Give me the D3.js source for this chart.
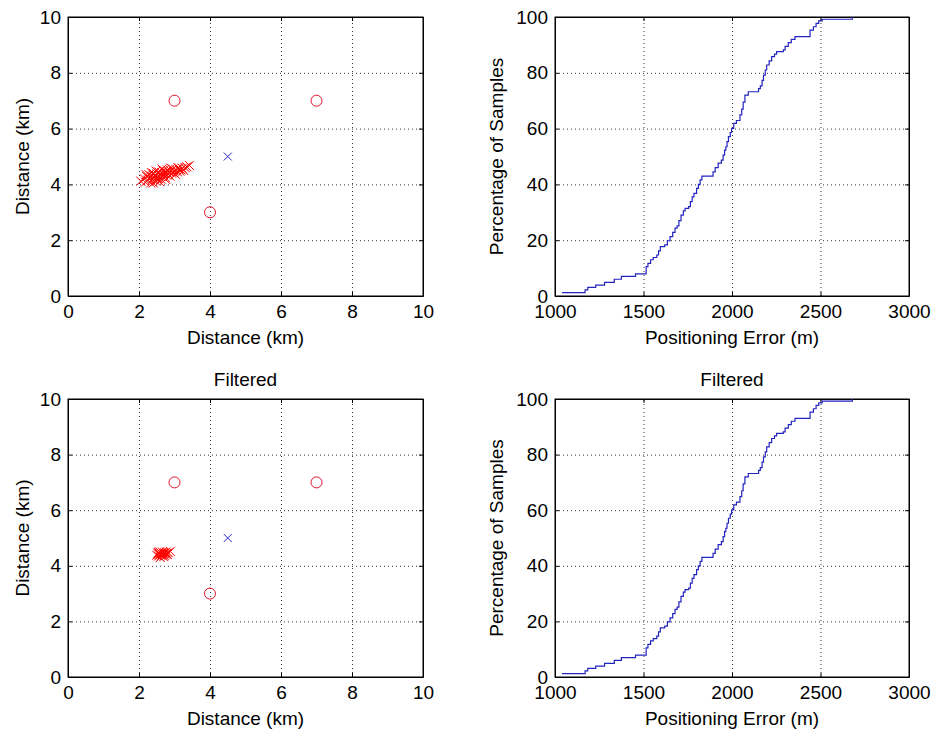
<!DOCTYPE html>
<html>
<head>
<meta charset="utf-8">
<script src="https://cdn.jsdelivr.net/npm/d3@7"></script>
<style>
  body { margin: 0; background: #fff; }
  svg { font-family: "Liberation Sans", Arial, sans-serif; }
  .tick text { font-size: 19px; fill: #000; }
  .grid line { stroke: #000; stroke-dasharray: 1,3; stroke-opacity: 0.8; }
  .grid .domain { display: none; }
</style>
</head>
<body>
<script>
// anchor points (red circles) and the true position (blue cross)
const anchorX = [3, 7, 4];
const anchorY = [7, 7, 3];
const truePos = [4.5, 5];

// raw position estimates (red crosses, top left)
const rawX = [2.05, 2.15, 2.18, 2.22, 2.25, 2.28, 2.30, 2.33, 2.35, 2.38, 2.40, 2.42, 2.45, 2.47, 2.50,
  2.52, 2.55, 2.57, 2.60, 2.62, 2.64, 2.66, 2.68, 2.70, 2.72, 2.74, 2.76, 2.78, 2.80, 2.82, 2.85, 2.87,
  2.90, 2.92, 2.95, 2.97, 3.00, 3.03, 3.05, 3.08, 3.12, 3.15, 3.18, 3.22, 3.26, 3.30, 3.35, 3.42, 2.40,
  2.58, 2.20, 2.48, 2.65, 3.10, 2.90, 2.35, 2.53, 2.75];
const rawY = [4.12, 4.20, 4.08, 4.28, 4.15, 4.35, 4.22, 4.05, 4.30, 4.18, 4.40, 4.26, 4.33, 4.12, 4.38,
  4.22, 4.45, 4.30, 4.36, 4.18, 4.42, 4.28, 4.50, 4.35, 4.40, 4.25, 4.46, 4.33, 4.52, 4.38, 4.44, 4.30,
  4.48, 4.40, 4.55, 4.42, 4.47, 4.36, 4.52, 4.45, 4.56, 4.48, 4.52, 4.58, 4.50, 4.60, 4.63, 4.68, 4.05,
  4.10, 4.35, 4.48, 4.55, 4.60, 4.58, 4.42, 4.15, 4.18];

// filtered position estimates (red crosses, bottom left)
const filtX = [2.50, 2.53, 2.55, 2.57, 2.58, 2.60, 2.62, 2.63, 2.65, 2.66, 2.68, 2.70, 2.72, 2.73, 2.75,
  2.77, 2.78, 2.80, 2.83, 2.88, 2.60, 2.70, 2.55];
const filtY = [4.38, 4.45, 4.35, 4.42, 4.50, 4.40, 4.46, 4.36, 4.43, 4.49, 4.40, 4.45, 4.38, 4.47, 4.42,
  4.50, 4.44, 4.41, 4.47, 4.52, 4.30, 4.33, 4.48];

// empirical CDF of the positioning error (step points)
const cdfError = [1040, 1170, 1185, 1230, 1280, 1335, 1375, 1455, 1515, 1525, 1540, 1555, 1575, 1585,
  1595, 1620, 1635, 1650, 1665, 1678, 1690, 1700, 1712, 1725, 1735, 1755, 1765, 1775, 1785, 1800, 1810,
  1820, 1830, 1880, 1893, 1905, 1922, 1940, 1950, 1958, 1965, 1972, 1980, 1990, 1998, 2010, 2025, 2045,
  2055, 2063, 2073, 2092, 2150, 2160, 2170, 2178, 2188, 2196, 2210, 2224, 2240, 2252, 2290, 2300, 2318,
  2335, 2356, 2441, 2460, 2475, 2490, 2510, 2680];
const cdfPct = [1.2, 2.2, 3.1, 3.9, 4.9, 6.0, 7.0, 7.9, 10.5, 11.7, 13.0, 13.8, 14.7, 16.2,
  17.7, 18.3, 19.8, 21.3, 22.8, 24.3, 25.1, 27.0, 29.0, 30.5, 31.4, 32.0, 33.8, 35.5, 36.8, 38.6, 40.0,
  41.6, 43.0, 43.0, 44.5, 46.0, 47.6, 48.7, 50.5, 52.3, 53.5, 55.3, 57.1, 58.6, 60.1, 61.9, 62.9, 64.9,
  67.0, 69.5, 72.0, 73.2, 74.3, 75.3, 77.3, 79.2, 81.0, 82.8, 84.3, 85.8, 86.7, 87.6, 88.2, 89.5, 90.8,
  92.0, 93.0, 95.3, 96.5, 97.7, 98.6, 99.2, 100];
const cdfErrorFilt = cdfError;
const cdfPctFilt = cdfPct;

const distTicks = [0, 2, 4, 6, 8, 10];
const errTicks = [1000, 1500, 2000, 2500, 3000];
const pctTicks = [0, 20, 40, 60, 80, 100];

const width = 935, height = 735;
const svg = d3.select("body").append("svg")
  .attr("width", width)
  .attr("height", height);

const fmt = d3.format("d");

function drawPanel(box, xDomain, yDomain, xTicks, yTicks, xLabel, yLabel, title) {
  const x = d3.scaleLinear().domain(xDomain).range([box.left, box.right]);
  const y = d3.scaleLinear().domain(yDomain).range([box.bottom, box.top]);
  const g = svg.append("g");

  // dotted grid
  g.append("g").attr("class", "grid")
    .attr("transform", `translate(0,${box.bottom})`)
    .call(d3.axisBottom(x).tickValues(xTicks.slice(1, -1)).tickSize(-(box.bottom - box.top)).tickFormat(""));
  g.append("g").attr("class", "grid")
    .attr("transform", `translate(${box.left},0)`)
    .call(d3.axisLeft(y).tickValues(yTicks.slice(1, -1)).tickSize(-(box.right - box.left)).tickFormat(""));

  // tick labels + inward ticks
  const xa = g.append("g").attr("transform", `translate(0,${box.bottom})`)
    .call(d3.axisBottom(x).tickValues(xTicks).tickFormat(fmt).tickSizeInner(-4).tickSizeOuter(0).tickPadding(9));
  g.append("g").attr("transform", `translate(${box.left},0)`)
    .call(d3.axisLeft(y).tickValues(yTicks).tickFormat(fmt).tickSizeInner(-4).tickSizeOuter(0).tickPadding(7));
  g.append("g").attr("transform", `translate(0,${box.top})`)
    .call(d3.axisTop(x).tickValues(xTicks).tickSizeInner(-4).tickSizeOuter(0).tickFormat(""));
  g.append("g").attr("transform", `translate(${box.right},0)`)
    .call(d3.axisRight(y).tickValues(yTicks).tickSizeInner(-4).tickSizeOuter(0).tickFormat(""));
  g.selectAll(".domain").filter(function() { return !this.parentNode.classList.contains("grid"); })
    .attr("stroke", "#000");
  xa.selectAll(".tick text").attr("dy", "0.71em");

  g.append("rect")
    .attr("x", box.left).attr("y", box.top)
    .attr("width", box.right - box.left).attr("height", box.bottom - box.top)
    .attr("fill", "none").attr("stroke", "#000").attr("stroke-width", 1);

  g.append("text")
    .attr("x", (box.left + box.right) / 2).attr("y", box.bottom + 48)
    .attr("text-anchor", "middle").attr("font-size", 19)
    .text(xLabel);
  g.append("text")
    .attr("transform", `translate(${box.left - box.yTitleOff},${(box.top + box.bottom) / 2}) rotate(-90)`)
    .attr("text-anchor", "middle").attr("font-size", 19)
    .text(yLabel);
  if (title) {
    g.append("text")
      .attr("x", (box.left + box.right) / 2).attr("y", box.top - 13)
      .attr("text-anchor", "middle").attr("font-size", 19)
      .text(title);
  }
  return { g, x, y };
}

function crossPath(s) {
  return `M${-s},${-s}L${s},${s}M${-s},${s}L${s},${-s}`;
}

function drawScatter(p, ptsX, ptsY) {
  const { g, x, y } = p;
  g.selectAll("path.est").data(d3.range(ptsX.length)).enter().append("path")
    .attr("class", "est")
    .attr("transform", i => `translate(${x(ptsX[i])},${y(ptsY[i])})`)
    .attr("d", crossPath(4.5))
    .attr("stroke", "#ff0000").attr("stroke-width", 1).attr("fill", "none");
  g.selectAll("circle.anchor").data(d3.range(anchorX.length)).enter().append("circle")
    .attr("class", "anchor")
    .attr("cx", i => x(anchorX[i])).attr("cy", i => y(anchorY[i]))
    .attr("r", 5.5)
    .attr("stroke", "#e0102a").attr("stroke-width", 1).attr("fill", "none");
  g.append("path")
    .attr("transform", `translate(${x(truePos[0])},${y(truePos[1])})`)
    .attr("d", crossPath(4))
    .attr("stroke", "#2a2acc").attr("stroke-width", 1).attr("fill", "none");
}

function drawCdf(p, errs, pcts) {
  const { g, x, y } = p;
  const line = d3.line()
    .x(i => x(errs[i]))
    .y(i => y(pcts[i]))
    .curve(d3.curveStepAfter);
  g.append("path")
    .attr("d", line(d3.range(errs.length)))
    .attr("fill", "none")
    .attr("stroke", "#2323c0")
    .attr("stroke-width", 1.2);
}

const tl = drawPanel({ left: 68, right: 423, top: 17, bottom: 296, yTitleOff: 39 },
  [0, 10], [0, 10], distTicks, distTicks, "Distance (km)", "Distance (km)", null);
drawScatter(tl, rawX, rawY);

const tr = drawPanel({ left: 555, right: 909, top: 17, bottom: 296, yTitleOff: 52 },
  [1000, 3000], [0, 100], errTicks, pctTicks, "Positioning Error (m)", "Percentage of Samples", null);
drawCdf(tr, cdfError, cdfPct);

const bl = drawPanel({ left: 68, right: 423, top: 399, bottom: 677, yTitleOff: 39 },
  [0, 10], [0, 10], distTicks, distTicks, "Distance (km)", "Distance (km)", "Filtered");
drawScatter(bl, filtX, filtY);

const br = drawPanel({ left: 555, right: 909, top: 399, bottom: 677, yTitleOff: 52 },
  [1000, 3000], [0, 100], errTicks, pctTicks, "Positioning Error (m)", "Percentage of Samples", "Filtered");
drawCdf(br, cdfErrorFilt, cdfPctFilt);
</script>
</body>
</html>
